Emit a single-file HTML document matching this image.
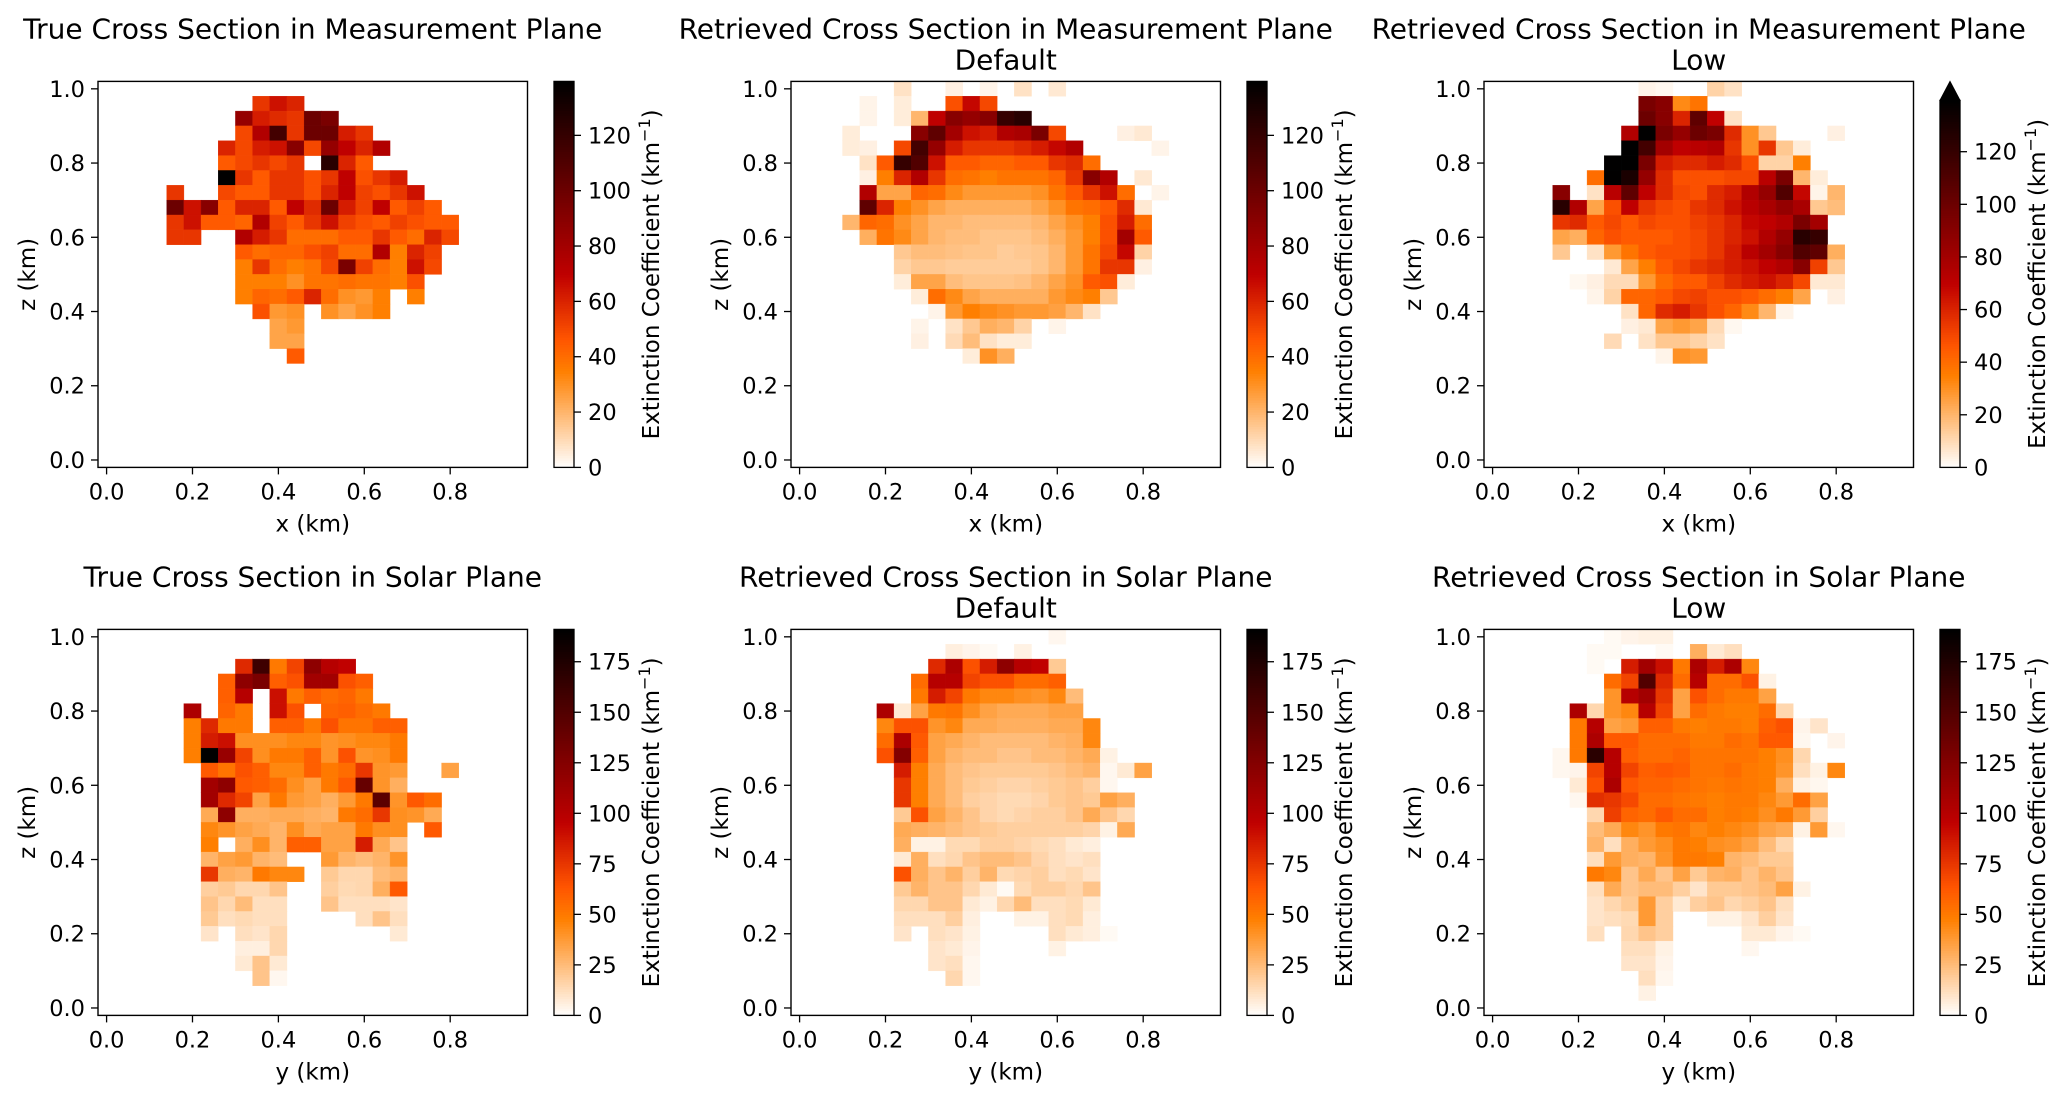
<!DOCTYPE html>
<html><head><meta charset="utf-8">
<style>
html,body{margin:0;padding:0;background:#fff;}
svg{display:block;font-family:"DejaVu Sans","Liberation Sans",sans-serif;}
</style></head>
<body>
<svg id="fig" xmlns="http://www.w3.org/2000/svg" width="2067" height="1100" viewBox="0 0 2067 1100">
<rect x="0" y="0" width="2067" height="1100" fill="#fff"/>
</svg>
<script>
const xTicks = [0, 0.2, 0.4, 0.6, 0.8];
const xTickLabels = ['0.0', '0.2', '0.4', '0.6', '0.8'];
const yTicks = [0, 0.2, 0.4, 0.6, 0.8, 1.0];
const yTickLabels = ['0.0', '0.2', '0.4', '0.6', '0.8', '1.0'];
const cbTicksMeas = [0, 20, 40, 60, 80, 100, 120];
const cbTicksSolar = [0, 25, 50, 75, 100, 125, 150, 175];
const vmaxMeas = 139.5;
const vmaxSolar = 191;

const trueMeas = [
[],
[0,0,0,0,0,0,0,0,0,55,65,60],
[0,0,0,0,0,0,0,0,85,62,58,55,100,95],
[0,0,0,0,0,0,0,0,50,75,115,55,100,100,62,55],
[0,0,0,0,0,0,0,60,50,62,65,90,50,85,70,60,75],
[0,0,0,0,0,0,0,45,50,55,50,55,0,125,60,45],
[0,0,0,0,0,0,0,139,55,45,55,55,48,55,70,48,55,62],
[0,0,0,0,55,0,0,50,45,45,55,55,48,60,70,52,48,55,65],
[0,0,0,0,100,65,90,45,60,60,45,70,58,100,62,52,70,45,52,45],
[0,0,0,0,55,65,45,45,42,75,52,45,55,65,52,48,45,52,48,45,45],
[0,0,0,0,55,55,0,0,75,62,55,40,40,40,45,45,55,45,40,60,50],
[0,0,0,0,0,0,0,0,45,40,42,42,48,52,40,40,75,35,60,52],
[0,0,0,0,0,0,0,0,35,55,40,35,38,50,95,52,40,35,65,50],
[0,0,0,0,0,0,0,0,35,35,35,30,38,38,40,38,38,35,48],
[0,0,0,0,0,0,0,0,35,42,40,45,60,40,30,28,35,0,35],
[0,0,0,0,0,0,0,0,0,48,28,30,0,30,25,30,35],
[0,0,0,0,0,0,0,0,0,0,25,28],
[0,0,0,0,0,0,0,0,0,0,25,25],
[0,0,0,0,0,0,0,0,0,0,0,45]
];
const defMeas = [
[0,0,0,0,0,0,8,0,0,4,0,3,0,8,0,6],
[0,0,0,0,3,0,5,0,0,48,68,50],
[0,0,0,0,3,0,5,20,70,90,85,90,120,125],
[0,0,0,5,0,0,0,90,105,80,65,62,75,78,95,50,0,0,0,4,6],
[0,0,0,5,4,0,50,115,85,62,55,55,55,58,62,68,75,0,0,0,0,3],
[0,0,0,0,8,45,120,110,65,45,45,42,42,45,45,55,58,40],
[0,0,0,0,4,35,60,75,55,40,38,35,38,38,38,42,55,90,75,0,6],
[0,0,0,0,75,25,25,42,40,32,28,28,28,28,30,38,45,55,65,40,0,3],
[0,0,0,0,105,60,35,30,25,22,22,22,22,22,25,30,38,40,45,58,6],
[0,0,0,20,42,40,30,25,20,20,18,18,18,18,20,25,30,35,48,62,40],
[0,0,0,0,22,38,32,25,20,18,18,16,16,16,18,22,28,35,48,80,45],
[0,0,0,0,0,0,15,18,18,17,16,16,14,15,16,20,28,38,50,68,12],
[0,0,0,0,0,0,12,15,15,14,14,14,14,14,16,20,28,38,55,55,4],
[0,0,0,0,0,0,5,25,25,18,16,16,16,17,20,25,30,45,48,5],
[0,0,0,0,0,0,0,5,40,32,25,22,22,22,22,28,32,35,15],
[0,0,0,0,0,0,0,0,3,28,35,32,30,28,28,26,20,8],
[0,0,0,0,0,0,0,3,0,8,15,22,20,12,0,3],
[0,0,0,0,0,0,0,4,0,10,18,8,5,5],
[0,0,0,0,0,0,0,0,0,0,5,30,22]
];
const lowMeas = [
[0,0,0,0,0,0,0,0,0,3,2,0,0,12,8],
[0,0,0,0,0,0,0,0,0,95,90,32,38],
[0,0,0,0,0,0,0,0,0,100,90,60,105,70,8],
[0,0,0,0,0,0,0,0,75,139,95,85,100,95,58,30,15,0,0,0,4],
[0,0,0,0,0,0,0,0,139,115,80,70,72,75,55,30,55,15,5],
[0,0,0,0,0,0,0,139,139,95,62,58,58,62,58,48,12,12,35],
[0,0,0,0,0,0,40,139,130,85,58,48,48,48,50,50,72,95,20,5],
[0,0,0,0,90,0,8,72,105,70,58,50,48,58,62,75,85,110,68,3,20],
[0,0,0,0,125,75,25,48,70,55,50,48,55,58,65,72,78,85,78,15,18],
[0,0,0,0,55,58,45,50,45,50,48,48,52,55,60,68,70,75,95,80],
[0,0,0,0,25,22,42,48,45,45,45,48,50,55,60,65,75,85,125,120],
[0,0,0,0,15,0,8,28,38,45,48,48,50,55,62,72,80,90,110,105,22],
[0,0,0,0,0,0,0,6,25,35,45,50,55,58,62,65,70,75,90,52,15],
[0,0,0,0,0,2,4,10,10,28,40,45,45,52,58,62,65,60,50,6,6],
[0,0,0,0,0,0,3,12,42,42,45,50,52,48,48,45,40,35,25,0,4],
[0,0,0,0,0,0,0,0,8,42,58,62,55,48,42,32,20,3],
[0,0,0,0,0,0,0,0,4,6,25,28,25,10,2],
[0,0,0,0,0,0,0,10,0,8,15,15,12,8],
[0,0,0,0,0,0,0,0,0,0,3,30,28]
];
const trueSolar = [
[],
[],
[0,0,0,0,0,0,0,0,80,160,50,70,120,100,95],
[0,0,0,0,0,0,0,60,120,130,60,65,110,110,65,60],
[0,0,0,0,0,0,0,60,100,0,90,50,60,55,58,50],
[0,0,0,0,0,105,0,58,50,0,90,65,0,58,60,55,50],
[0,0,0,0,0,48,80,50,50,0,60,60,50,65,52,52,60,60],
[0,0,0,0,0,48,85,90,42,42,42,45,45,40,42,45,45,50],
[0,0,0,0,0,48,191,115,70,42,50,50,60,40,65,40,42,50],
[0,0,0,0,0,0,62,52,65,60,45,45,60,50,55,75,40,38,0,0,35],
[0,0,0,0,0,0,110,120,62,60,55,42,35,50,62,140,40,30],
[0,0,0,0,0,0,110,80,70,35,50,38,35,30,38,50,145,40,62,55],
[0,0,0,0,0,0,32,120,30,30,32,32,30,28,50,55,75,42,40,32],
[0,0,0,0,0,0,45,40,35,32,28,42,32,35,35,50,42,42,0,62],
[0,0,0,0,0,0,48,0,30,42,28,60,60,35,35,85,32,22],
[0,0,0,0,0,0,28,35,38,28,25,0,0,38,28,25,28,40],
[0,0,0,0,0,0,75,30,28,50,45,45,0,20,15,15,25,28],
[0,0,0,0,0,0,18,20,15,15,22,0,0,18,14,15,30,62],
[0,0,0,0,0,0,22,15,25,12,12,0,0,22,12,12,12,10],
[0,0,0,0,0,0,20,12,14,12,12,0,0,0,0,12,22,12],
[0,0,0,0,0,0,10,0,12,10,15,0,0,0,0,0,0,8],
[0,0,0,0,0,0,0,0,6,6,15],
[0,0,0,0,0,0,0,0,8,22,8],
[0,0,0,0,0,0,0,0,0,22,3]
];
const defSolar = [
[0,0,0,0,0,0,0,0,0,0,0,0,0,0,0,3],
[0,0,0,0,0,0,0,0,0,6,4,2,0,5],
[0,0,0,0,0,0,0,0,80,105,65,85,120,100,95,20],
[0,0,0,0,0,0,0,55,100,100,70,65,65,55,55,60],
[0,0,0,0,0,0,0,50,85,70,50,45,45,42,40,45,25],
[0,0,0,0,0,105,8,35,50,52,42,35,32,32,32,35,35],
[0,0,0,0,0,45,65,65,40,45,32,32,30,30,30,32,32,45],
[0,0,0,0,0,55,105,62,35,32,28,25,25,25,25,28,30,45],
[0,0,0,0,0,65,125,60,35,28,25,25,22,22,25,25,28,32,5],
[0,0,0,0,0,0,85,48,32,25,22,20,20,20,20,22,25,28,3,8,35],
[0,0,0,0,0,0,75,48,32,25,20,18,16,16,18,20,22,18,3],
[0,0,0,0,0,0,75,48,32,25,18,16,14,14,16,20,22,20,35,30],
[0,0,0,0,0,0,20,65,35,28,22,16,14,16,18,18,22,32,22,15],
[0,0,0,0,0,0,32,30,28,25,22,20,18,18,18,18,18,16,5,32],
[0,0,0,0,0,0,30,5,5,14,14,18,18,16,14,12,8,6],
[0,0,0,0,0,0,8,30,12,15,22,25,25,22,16,12,10,12],
[0,0,0,0,0,0,65,30,22,28,18,28,14,16,18,12,14,10],
[0,0,0,0,0,0,20,28,22,22,15,8,2,14,18,18,15,22],
[0,0,0,0,0,0,15,15,22,22,8,5,15,25,12,12,14,8],
[0,0,0,0,0,0,12,12,12,18,6,0,0,5,5,12,14,6],
[0,0,0,0,0,0,10,0,12,10,5,0,0,0,0,12,8,6,2],
[0,0,0,0,0,0,0,0,10,8,4,0,0,0,0,5],
[0,0,0,0,0,0,0,0,10,12,3],
[0,0,0,0,0,0,0,0,0,15,3]
];
const lowSolar = [
[0,0,0,0,0,0,0,2,4,5,5],
[0,0,0,0,0,0,2,2,0,0,2,0,30,8,12],
[0,0,0,0,0,0,2,0,85,110,90,50,105,85,105,45],
[0,0,0,0,0,0,0,55,70,150,80,55,100,55,55,65,5],
[0,0,0,0,0,0,0,40,100,110,75,35,65,55,50,50,35],
[0,0,0,0,0,105,15,40,45,100,70,35,55,50,48,48,55,15],
[0,0,0,0,0,50,100,35,38,60,60,50,48,50,50,48,60,65,4,10],
[0,0,0,0,0,50,105,62,62,55,55,55,50,50,55,52,62,62,3,0,4],
[0,0,0,0,3,50,170,100,60,55,55,58,52,52,52,52,48,42,15],
[0,0,0,0,3,4,70,100,70,60,62,60,52,52,55,50,48,40,12,5,45],
[0,0,0,0,0,8,65,105,62,58,58,55,52,50,52,50,48,30,5,3],
[0,0,0,0,0,3,78,75,68,55,55,52,50,48,50,50,45,38,55,35],
[0,0,0,0,0,0,15,72,58,55,62,55,55,48,50,48,42,50,38,18],
[0,0,0,0,0,0,25,32,45,40,50,52,45,48,45,42,35,32,5,38,3],
[0,0,0,0,0,0,28,12,30,38,42,50,48,42,40,35,25,15],
[0,0,0,0,0,0,12,38,30,28,40,50,50,48,28,25,20,20],
[0,0,0,0,0,0,50,45,22,32,22,35,20,28,30,22,28,22],
[0,0,0,0,0,0,12,32,22,25,25,18,10,20,20,22,25,35,5],
[0,0,0,0,0,0,10,15,20,38,18,8,18,22,15,18,22,12],
[0,0,0,0,0,0,10,12,14,38,18,0,0,5,5,10,18,10],
[0,0,0,0,0,0,12,0,15,22,18,0,0,0,0,8,8,4,2],
[0,0,0,0,0,0,0,0,12,12,5,0,0,0,0,3],
[0,0,0,0,0,0,0,0,10,10,4],
[0,0,0,0,0,0,0,0,0,12,3],
[0,0,0,0,0,0,0,0,0,5]
];

const NS = 'http://www.w3.org/2000/svg';
const svg = document.getElementById('fig');
const XMIN = -0.02, XMAX = 0.98, YMIN = -0.02, YMAX = 1.02;
const W = 429.5, H = 386;
const CELL = 0.04;
const FT = 28, FL = 23, FK = 22.5;

function cmap(v, vmax) {
  let t = Math.max(0, Math.min(1, v / vmax));
  const x = 1 - t;
  const r = Math.min(1, 1.5 * x);
  const g = Math.max(0, Math.min(1, 2 * x - 1));
  const b = Math.max(0, Math.min(1, 4 * x - 3));
  return 'rgb(' + Math.round(r * 255) + ',' + Math.round(g * 255) + ',' + Math.round(b * 255) + ')';
}
function mk(tag, attrs, parent) {
  const e = document.createElementNS(NS, tag);
  for (const k in attrs) e.setAttribute(k, attrs[k]);
  (parent || svg).appendChild(e);
  return e;
}
function txt(s, attrs, parent) {
  const e = mk('text', attrs, parent);
  e.textContent = s;
  return e;
}

function drawPanel(p) {
  const g = mk('g', {});
  
  
  const xs = v => p.left + (v - XMIN) / (XMAX - XMIN) * W;
  const ys = v => p.top + (YMAX - v) / (YMAX - YMIN) * H;
  const cx = p.left + W / 2;

  const t1 = txt(p.title[0], {x: cx, y: p.top - 43, 'text-anchor': 'middle', 'font-size': FT, fill: '#000'}, g);
  
  
  if (p.title[1]) {
    const t2 = txt(p.title[1], {x: cx, y: p.top - 12, 'text-anchor': 'middle', 'font-size': FT, fill: '#000'}, g);
    
    
  }

  const cells = mk('g', {}, g);
  
  
  p.data.forEach((row, r) => {
    row.forEach((v, c) => {
      if (!v || v <= 0) return;
      const x0 = xs(c * CELL - CELL / 2), x1 = xs(c * CELL + CELL / 2);
      const zc = 1.0 - r * CELL;
      const y0 = ys(zc + CELL / 2), y1 = ys(zc - CELL / 2);
      const col = cmap(v, p.vmax);
      const rc = mk('rect', {x: x0, y: y0, width: x1 - x0, height: y1 - y0, fill: col, stroke: col, 'stroke-width': 0.4}, cells);
      
      
    });
  });

  const fr = mk('rect', {x: p.left, y: p.top, width: W, height: H, fill: 'none', stroke: '#000', 'stroke-width': 1.4}, g);
  
  

  xTicks.forEach((v, i) => {
    const x = xs(v);
    const tk = mk('line', {x1: x, x2: x, y1: p.top + H, y2: p.top + H + 7, stroke: '#000', 'stroke-width': 1.3}, g);
    
    
    const tl = txt(xTickLabels[i], {x: x, y: p.top + H + 32, 'text-anchor': 'middle', 'font-size': FK, fill: '#000'}, g);
    
    
  });
  yTicks.forEach((v, i) => {
    const y = ys(v);
    const tk = mk('line', {x1: p.left - 7, x2: p.left, y1: y, y2: y, stroke: '#000', 'stroke-width': 1.3}, g);
    
    
    const tl = txt(yTickLabels[i], {x: p.left - 13, y: y + 8, 'text-anchor': 'end', 'font-size': FK, fill: '#000'}, g);
    
    
  });
  const xl = txt(p.xlabel, {x: cx, y: p.top + H + 64, 'text-anchor': 'middle', 'font-size': FL, fill: '#000'}, g);
  
  
  const yx = p.left - 63, yy = p.top + H / 2;
  const yl = txt('z (km)', {x: yx, y: yy, 'text-anchor': 'middle', 'font-size': FL, fill: '#000', transform: 'rotate(-90 ' + yx + ' ' + yy + ')'}, g);
  
  

  const cbL = p.cbLeft, cbW = 20;
  const cbTop = p.extend ? p.top + 19 : p.top;
  const cbBot = p.top + H;
  const cy = v => cbBot - v / p.vmax * (cbBot - cbTop);
  const cb = mk('g', {}, g);
  
  
  const N = 160;
  for (let k = 0; k < N; k++) {
    const v0 = k / N * p.vmax, v1 = (k + 1) / N * p.vmax;
    const s = mk('rect', {x: cbL, y: cy(v1), width: cbW, height: cy(v0) - cy(v1) + 0.6, fill: cmap((v0 + v1) / 2, p.vmax)}, cb);
    
    
  }
  if (p.extend) {
    const tri = mk('polygon', {points: cbL + ',' + cbTop + ' ' + (cbL + cbW / 2) + ',' + p.top + ' ' + (cbL + cbW) + ',' + cbTop, fill: '#000', stroke: '#000', 'stroke-width': 1}, cb);
    
    
  }
  const cbf = mk('rect', {x: cbL, y: cbTop, width: cbW, height: cbBot - cbTop, fill: 'none', stroke: '#000', 'stroke-width': 1.3}, cb);
  
  
  p.cbTicks.forEach(v => {
    const y = cy(v);
    const tk = mk('line', {x1: cbL + cbW, x2: cbL + cbW + 7, y1: y, y2: y, stroke: '#000', 'stroke-width': 1.3}, cb);
    
    
    const tl = txt(String(v), {x: cbL + cbW + 14, y: y + 8, 'font-size': FK, fill: '#000'}, cb);
    
    
  });
  const lx = cbL + cbW + 85, ly = (cbTop + cbBot) / 2;
  const lab = mk('text', {x: lx, y: ly, 'text-anchor': 'middle', 'font-size': FL, fill: '#000', transform: 'rotate(-90 ' + lx + ' ' + ly + ')'}, cb);
  
  
  lab.appendChild(document.createTextNode('Extinction Coefficient (km'));
  const sup = document.createElementNS(NS, 'tspan');
  sup.setAttribute('dy', '-9');
  sup.setAttribute('font-size', '16');
  sup.textContent = '\u22121';
  lab.appendChild(sup);
  const cl = document.createElementNS(NS, 'tspan');
  cl.setAttribute('dy', '9');
  cl.textContent = ')';
  lab.appendChild(cl);
}

const lefts = [98, 791, 1484];
const cbLefts = [554, 1247, 1940];
const topRow = 81.4, botRow = 629.4;

drawPanel({name: 'panel-true-measurement', left: lefts[0], top: topRow, cbLeft: cbLefts[0], data: trueMeas, vmax: vmaxMeas, cbTicks: cbTicksMeas, title: ['True Cross Section in Measurement Plane'], xlabel: 'x (km)'});
drawPanel({name: 'panel-retrieved-measurement-default', left: lefts[1], top: topRow, cbLeft: cbLefts[1], data: defMeas, vmax: vmaxMeas, cbTicks: cbTicksMeas, title: ['Retrieved Cross Section in Measurement Plane', 'Default'], xlabel: 'x (km)'});
drawPanel({name: 'panel-retrieved-measurement-low', left: lefts[2], top: topRow, cbLeft: cbLefts[2], data: lowMeas, vmax: vmaxMeas, cbTicks: cbTicksMeas, title: ['Retrieved Cross Section in Measurement Plane', 'Low'], xlabel: 'x (km)', extend: true});
drawPanel({name: 'panel-true-solar', left: lefts[0], top: botRow, cbLeft: cbLefts[0], data: trueSolar, vmax: vmaxSolar, cbTicks: cbTicksSolar, title: ['True Cross Section in Solar Plane'], xlabel: 'y (km)'});
drawPanel({name: 'panel-retrieved-solar-default', left: lefts[1], top: botRow, cbLeft: cbLefts[1], data: defSolar, vmax: vmaxSolar, cbTicks: cbTicksSolar, title: ['Retrieved Cross Section in Solar Plane', 'Default'], xlabel: 'y (km)'});
drawPanel({name: 'panel-retrieved-solar-low', left: lefts[2], top: botRow, cbLeft: cbLefts[2], data: lowSolar, vmax: vmaxSolar, cbTicks: cbTicksSolar, title: ['Retrieved Cross Section in Solar Plane', 'Low'], xlabel: 'y (km)'});
</script>
</body></html>
